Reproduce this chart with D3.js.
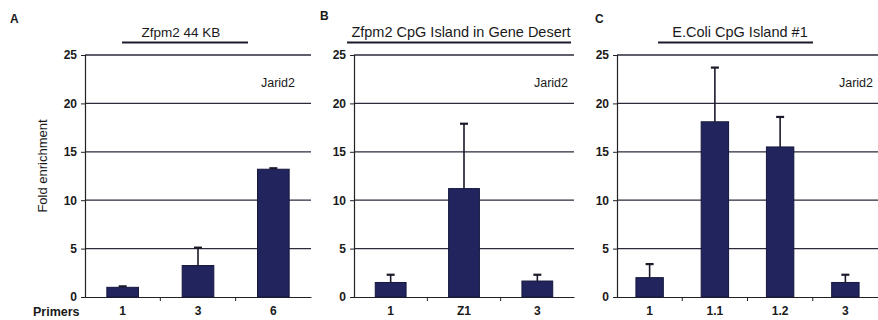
<!DOCTYPE html>
<html><head><meta charset="utf-8">
<script src="https://cdn.jsdelivr.net/npm/d3@7"></script>
<style>
body{margin:0;background:#fff;}
text{font-family:"Liberation Sans",Arial,sans-serif;fill:#1a1a1a;}
</style></head>
<body><svg id="c" width="878" height="320"></svg>
<script>
// Data
const catsA = ["1","3","6"];
const valsA = [1.0, 3.25, 13.2];
const errA  = [1.1, 5.1, 13.3];

const catsB = ["1","Z1","3"];
const valsB = [1.5, 11.2, 1.65];
const errB  = [2.3, 17.9, 2.3];

const catsC = ["1","1.1","1.2","3"];
const valsC = [2.0, 18.1, 15.5, 1.5];
const errC  = [3.4, 23.7, 18.6, 2.3];

const yTicks = [0,5,10,15,20,25];
const panelLetters = ["A","B","C"];
const titles = ["Zfpm2 44 KB","Zfpm2 CpG Island in Gene Desert","E.Coli CpG Island #1"];
const seriesLabel = "Jarid2";

const svg = d3.select("#c");
const barColor = "#22245e";
const gridColor = "#2e2a3c";

const panels = [
  {cats:catsA, vals:valsA, err:errA, x0:85, x1:311, letterX:10, letterY:23, titleX:181, titleSize:13.5, ulX0:122, ulX1:248, labOff:16},
  {cats:catsB, vals:valsB, err:errB, x0:354, x1:574, letterX:320, letterY:20, titleX:461, titleSize:14.5, ulX0:347, ulX1:571, labOff:6},
  {cats:catsC, vals:valsC, err:errC, x0:617, x1:878, letterX:595, letterY:23, titleX:740, titleSize:14.5, ulX0:658, ulX1:813, labOff:5}
];

const y = d3.scaleLinear().domain([0,25]).range([297,55]);

panels.forEach((p,i)=>{
  const g = svg.append("g");
  const x = d3.scaleBand().domain(p.cats).range([p.x0,p.x1]).padding(0);
  const bw = x.step()*0.42;

  // gridlines
  g.selectAll("line.grid").data(yTicks.filter(t=>t>0)).enter().append("line")
    .attr("x1",p.x0).attr("x2",p.x1).attr("y1",d=>y(d)).attr("y2",d=>y(d))
    .attr("stroke",gridColor).attr("stroke-width",1.3);

  // y axis
  const ya = g.append("g").attr("transform",`translate(${p.x0},0)`)
    .call(d3.axisLeft(y).tickValues(yTicks).tickSize(4).tickPadding(4));
  ya.select(".domain").attr("stroke","#222").attr("stroke-width",1.2);
  ya.selectAll(".tick line").attr("stroke","#222");
  ya.selectAll("text").style("font-size","12px").style("font-weight","bold").attr("fill","#222");

  // x axis
  const xa = g.append("g").attr("transform",`translate(0,${y(0)})`)
    .call(d3.axisBottom(x).tickSize(0).tickPadding(9));
  xa.select(".domain").attr("stroke","#222").attr("stroke-width",1.2);
  xa.selectAll("text").style("font-size","12px").style("font-weight","bold").attr("fill","#222");
  // band boundary ticks
  g.selectAll("line.bt").data(p.cats.slice(1)).enter().append("line")
    .attr("x1",d=>x(d)).attr("x2",d=>x(d)).attr("y1",y(0)).attr("y2",y(0)+4)
    .attr("stroke","#222");

  // error bars
  p.cats.forEach((c,j)=>{
    const cx = x(c)+x.step()/2;
    g.append("line").attr("x1",cx).attr("x2",cx).attr("y1",y(p.vals[j])).attr("y2",y(p.err[j]))
      .attr("stroke","#1a1a2a").attr("stroke-width",1.6);
    g.append("line").attr("x1",cx-4).attr("x2",cx+4).attr("y1",y(p.err[j])).attr("y2",y(p.err[j]))
      .attr("stroke","#1a1a2a").attr("stroke-width",2.2);
  });

  // bars
  g.selectAll("rect").data(p.cats).enter().append("rect")
    .attr("x",d=>x(d)+x.step()/2-bw/2).attr("width",bw)
    .attr("y",(d,j)=>y(p.vals[j])).attr("height",(d,j)=>y(0)-y(p.vals[j]))
    .attr("fill",barColor).attr("stroke","#15173d").attr("stroke-width",1);

  // panel letter
  svg.append("text").attr("x",p.letterX).attr("y",p.letterY).text(panelLetters[i])
    .style("font-size","12px").style("font-weight","bold");
  // title
  svg.append("text").attr("x",p.titleX).attr("y",37).attr("text-anchor","middle").text(titles[i])
    .style("font-size",p.titleSize+"px");
  svg.append("line").attr("x1",p.ulX0).attr("x2",p.ulX1).attr("y1",42.5).attr("y2",42.5)
    .attr("stroke","#1c1c2c").attr("stroke-width",2);
  // series label
  svg.append("text").attr("x",p.x1 - p.labOff).attr("y",87).attr("text-anchor","end").text(seriesLabel)
    .style("font-size","12.5px");
});

// y axis title
svg.append("text").attr("transform","translate(47,166) rotate(-90)").attr("text-anchor","middle")
  .text("Fold enrichment").style("font-size","13px");
// Primers label
svg.append("text").attr("x",33).attr("y",316).text("Primers")
  .style("font-size","12.5px").style("font-weight","bold");
</script>
</body></html>
